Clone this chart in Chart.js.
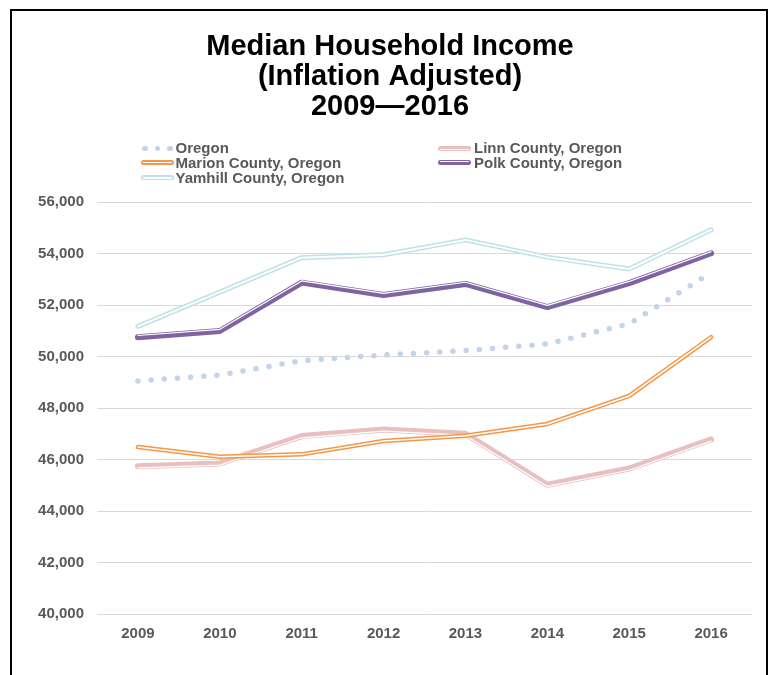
<!DOCTYPE html>
<html>
<head>
<meta charset="utf-8">
<script src="https://cdn.jsdelivr.net/npm/chart.js@4.4.0/dist/chart.umd.min.js"></script>
<style>
  html, body { margin:0; padding:0; background:#fff; }
  body { width:772px; height:675px; position:relative; overflow:hidden; font-family:"Liberation Sans", Arial, sans-serif; }
  #chart { position:absolute; left:0; top:0; }
  #frame { position:absolute; left:10px; top:9px; width:754px; height:720px; border:2.5px solid #000; pointer-events:none; }
  .leg-txt { position:absolute; font:bold 15px "Liberation Sans", Arial, sans-serif; color:#595959; line-height:16px; white-space:nowrap; }
  .leg-sw { position:absolute; width:33px; height:5px; border-radius:2.5px; }
  .leg-sw i { position:absolute; left:2px; right:2px; height:1.5px; background:#fff; border-radius:1px; }
  .leg-dot { position:absolute; width:5.5px; height:5.5px; border-radius:50%; }
</style>
</head>
<body>
<canvas id="chart" width="772" height="675"></canvas>
<div id="legend"></div>
<div id="frame"></div>
<script>
// ─── DATA ───
const YEARS   = ['2009','2010','2011','2012','2013','2014','2015','2016'];
const OREGON  = [49050, 49280, 49840, 50060, 50230, 50490, 51270, 53250];
const LINN    = [45740, 45850, 46910, 47170, 47000, 45020, 45650, 46780];
const MARION  = [46490, 46110, 46200, 46720, 46920, 47380, 48470, 50750];
const POLK    = [50750, 50990, 52870, 52390, 52820, 51920, 52850, 54010];
const YAMHILL = [51170, 52500, 53840, 53950, 54530, 53860, 53400, 54920];

const Y_MIN = 40000, Y_MAX = 56000, Y_STEP = 2000;
const TITLE = ['Median Household Income', '(Inflation Adjusted)', '2009\u20142016'];

// style: 'dots' | double line (gap = white stroke, shift = white stroke offset)
const SERIES = [
  { name:'Oregon',                data:OREGON,  color:'#c3d3ea', style:'dots' },
  { name:'Linn County, Oregon',   data:LINN,    color:'#e8c0bf', width:6,   gap:1.2, shift:1.7 },
  { name:'Marion County, Oregon', data:MARION,  color:'#f79646', width:4.5, gap:1.5, shift:0 },
  { name:'Polk County, Oregon',   data:POLK,    color:'#8064a2', width:6,   gap:1.2, shift:-1.7 },
  { name:'Yamhill County, Oregon',data:YAMHILL, color:'#bfe1e9', width:5,   gap:2,   shift:0 },
];

const TEXT_GREY = '#595959';
const FONT = '"Liberation Sans", Arial, sans-serif';

// ─── datasets: later series on top (lower order = drawn last) ───
const datasets = [];
SERIES.forEach((s, i) => {
  const base = 2 * (SERIES.length - i);
  if (s.style === 'dots') {
    datasets.push({
      label: s.name, data: s.data, borderColor: s.color, borderWidth: 5.5,
      borderDash: [0, 13.2], borderCapStyle: 'round', pointRadius: 0, order: base
    });
  } else {
    datasets.push({
      label: s.name, data: s.data, borderColor: s.color, borderWidth: s.width,
      borderCapStyle: 'round', borderJoinStyle: 'round', pointRadius: 0, order: base
    });
    datasets.push({
      label: s.name + ' inner', data: s.data, borderColor: '#ffffff', borderWidth: s.gap,
      borderCapStyle: 'round', borderJoinStyle: 'round', pointRadius: 0, order: base - 1,
      shiftY: s.shift
    });
  }
});

// nudge the white inner stroke for thick/thin compound lines
const shiftPlugin = {
  id: 'shiftInner',
  beforeDatasetDraw(chart, args) {
    const dy = chart.data.datasets[args.index].shiftY || 0;
    chart.ctx.save();
    chart.ctx.translate(0, dy);
  },
  afterDatasetDraw(chart) {
    chart.ctx.restore();
  }
};

new Chart(document.getElementById('chart'), {
  type: 'line',
  data: { labels: YEARS, datasets },
  plugins: [shiftPlugin],
  options: {
    responsive: false,
    animation: false,
    layout: { padding: { left: 28, right: 20, top: 0, bottom: 0 } },
    plugins: {
      legend: { display: false },
      tooltip: { enabled: false },
      title: {
        display: true, text: TITLE, color: '#000',
        font: { family: FONT, size: 29, weight: 'bold', lineHeight: 1.035 },
        padding: { top: 32, bottom: 80 }
      }
    },
    scales: {
      x: {
        offset: true,
        grid: { display: false, drawTicks: false },
        border: { display: false },
        ticks: { color: TEXT_GREY, padding: 11, font: { family: FONT, size: 15, weight: 'bold' } },
        afterFit: s => { s.height = 61; }
      },
      y: {
        min: Y_MIN, max: Y_MAX,
        grid: { color: '#d9d9d9', lineWidth: 1, drawTicks: false },
        border: { display: false },
        ticks: { stepSize: Y_STEP, color: TEXT_GREY, padding: 13, font: { family: FONT, size: 15, weight: 'bold' } },
        afterFit: s => { s.width = 69; }
      }
    }
  }
});

// ─── legend (Excel-style two column grid) ───
const leg = document.getElementById('legend');
const COL_SW = [141, 438], COL_TXT = [175.5, 474], ROW_Y = [148.3, 162.7, 177.7];
SERIES.forEach((s, i) => {
  const col = i % 2, row = Math.floor(i / 2);
  const cy = ROW_Y[row];
  if (s.style === 'dots') {
    [145, 157.5, 170].forEach(x => {
      const d = document.createElement('div');
      d.className = 'leg-dot';
      d.style.cssText = `left:${x - 2.75}px;top:${cy - 2.75}px;background:${s.color}`;
      leg.appendChild(d);
    });
  } else {
    const sw = document.createElement('div');
    sw.className = 'leg-sw';
    sw.style.cssText = `left:${COL_SW[col]}px;top:${cy - 2.5}px;background:${s.color}`;
    const inner = document.createElement('i');
    inner.style.top = `${2.5 - s.gap / 2 + s.shift * 0.6}px`;
    inner.style.height = `${s.gap}px`;
    sw.appendChild(inner);
    leg.appendChild(sw);
  }
  const t = document.createElement('div');
  t.className = 'leg-txt';
  t.textContent = s.name;
  t.style.left = COL_TXT[col] + 'px';
  t.style.top = (cy - 8) + 'px';
  leg.appendChild(t);
});
</script>
</body>
</html>
